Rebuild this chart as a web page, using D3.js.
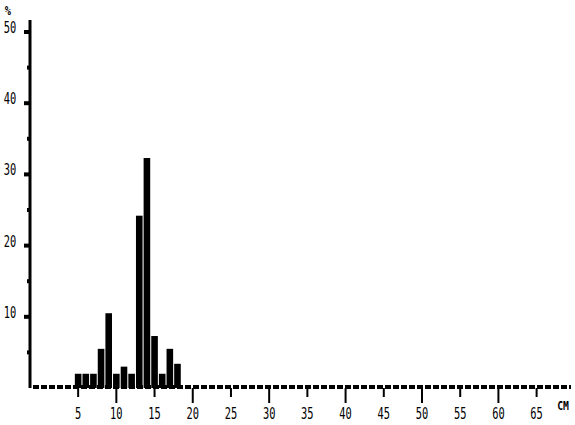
<!DOCTYPE html>
<html>
<head>
<meta charset="utf-8">
<script src="https://cdn.jsdelivr.net/npm/d3@7"></script>
<style>
  body { margin: 0; background: #fff; }
  text { font-family: "DejaVu Sans Mono", monospace; }
</style>
</head>
<body>
<div id="container"></div>
<script>
let w = 575;
let h = 425;

// size classes in cm and their share in %
let sizes = [5, 6, 7, 8, 9, 10, 11, 12, 13, 14, 15, 16, 17, 18];
let percents = [2, 2, 2, 5.5, 10.5, 2, 3, 2, 24.2, 32.3, 7.3, 2, 5.5, 3.4];

let xTicks = [5, 10, 15, 20, 25, 30, 35, 40, 45, 50, 55, 60, 65];
let yTicks = [10, 20, 30, 40, 50];
let yMinor = [5, 15, 25, 35, 45];

let viz = d3.select("#container")
  .append("svg")
    .attr("width", w)
    .attr("height", h)
    .style("background-color", "white")
;

let xScale = d3.scaleLinear().domain([-1.3, 69.5]).range([30, 571]);
let yScale = d3.scaleLinear().domain([0, 50]).range([388, 32]);

// dashed base line
viz.append("line")
  .attr("x1", 33).attr("x2", 571)
  .attr("y1", yScale(0) - 1).attr("y2", yScale(0) - 1)
  .attr("stroke", "black")
  .attr("stroke-width", 4)
  .attr("stroke-dasharray", "6,2")
;

// bars
viz.selectAll(".bar").data(sizes)
  .enter()
  .append("rect")
    .attr("class", "bar")
    .attr("x", function(d){ return xScale(d) - 3.3; })
    .attr("width", 6.6)
    .attr("y", function(d, i){ return yScale(percents[i]); })
    .attr("height", function(d, i){ return yScale(0) - yScale(percents[i]); })
    .attr("fill", "black")
;

// y axis
viz.append("line")
  .attr("x1", 30).attr("x2", 30)
  .attr("y1", 20).attr("y2", yScale(0))
  .attr("stroke", "black")
  .attr("stroke-width", 3)
;
viz.selectAll(".ytick").data(yTicks).enter()
  .append("rect")
    .attr("x", 24).attr("width", 5)
    .attr("y", function(d){ return yScale(d) - 2; })
    .attr("height", 4)
    .attr("fill", "black")
;
viz.selectAll(".yminor").data(yMinor).enter()
  .append("rect")
    .attr("x", 27).attr("width", 3)
    .attr("y", function(d){ return yScale(d) - 2; })
    .attr("height", 4)
    .attr("fill", "black")
;
viz.selectAll(".ylabel").data(yTicks).enter()
  .append("text")
    .attr("text-anchor", "middle")
    .attr("font-size", 16)
    .attr("transform", function(d){ return "translate(10," + (yScale(d) + 1) + ") scale(0.65,1)"; })
    .text(function(d){ return d; })
;
viz.append("text")
  .attr("text-anchor", "middle")
  .attr("font-size", 13)
  .attr("font-weight", "bold")
  .attr("transform", "translate(8,15) scale(0.8,1)")
  .text("%")
;

// x axis ticks
viz.selectAll(".xtick").data(xTicks).enter()
  .append("line")
    .attr("x1", function(d){ return xScale(d); })
    .attr("x2", function(d){ return xScale(d); })
    .attr("y1", yScale(0))
    .attr("y2", function(d, i){ return yScale(0) + (i % 2 == 1 ? 15 : 9); })
    .attr("stroke", "black")
    .attr("stroke-width", 2)
;
viz.selectAll(".xlabel").data(xTicks).enter()
  .append("text")
    .attr("text-anchor", "middle")
    .attr("font-size", 16)
    .attr("transform", function(d){ return "translate(" + xScale(d) + ",419) scale(0.65,1)"; })
    .text(function(d){ return d; })
;
viz.append("text")
  .attr("text-anchor", "middle")
  .attr("font-size", 13)
  .attr("font-weight", "bold")
  .attr("transform", "translate(563,410) scale(0.75,1)")
  .text("CM")
;
</script>
</body>
</html>
